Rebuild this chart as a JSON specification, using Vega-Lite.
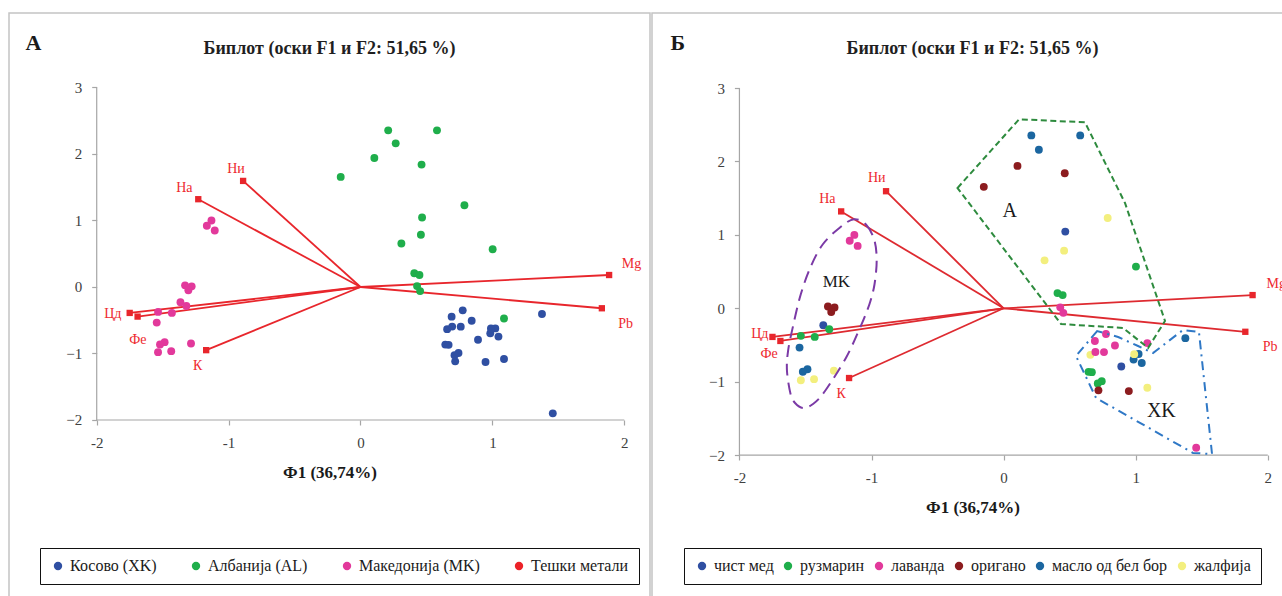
{
  "$schema": "https://vega.github.io/schema/vega-lite/v6.json",
  "background": "white",
  "padding": {"left": 8, "top": 12, "right": 0, "bottom": 0},
  "spacing": 0,
  "config": {
    "view": {"stroke": "#c4c4c4", "strokeWidth": 1.5},
    "font": "Liberation Serif",
    "text": {"font": "Liberation Serif"},
    "legend": {"labelFont": "Liberation Serif"},
    "axis": {"grid": false, "domain": false, "tickColor": "#a6a6a6", "tickSize": 5, "tickWidth": 1.2, "format": "d",
      "labelFont": "Liberation Serif", "labelFontSize": 15, "labelColor": "#404040", "labelFlush": false, "labelBound": false,
      "titleFont": "Liberation Serif", "titleFontSize": 17, "titleFontWeight": "bold", "titleColor": "#1a1a1a"}
  },
  "datasets": {
    "samples": [
      {"f1": -1.13, "f2": 1.0, "c": "Македонија (MK)", "h": "лаванда"},
      {"f1": -1.165, "f2": 0.92, "c": "Македонија (MK)", "h": "лаванда"},
      {"f1": -1.105, "f2": 0.85, "c": "Македонија (MK)", "h": "лаванда"},
      {"f1": -1.33, "f2": 0.025, "c": "Македонија (MK)", "h": "оригано"},
      {"f1": -1.28, "f2": 0.01, "c": "Македонија (MK)", "h": "оригано"},
      {"f1": -1.305, "f2": -0.05, "c": "Македонија (MK)", "h": "оригано"},
      {"f1": -1.365, "f2": -0.23, "c": "Македонија (MK)", "h": "чист мед"},
      {"f1": -1.32, "f2": -0.285, "c": "Македонија (MK)", "h": "рузмарин"},
      {"f1": -1.535, "f2": -0.375, "c": "Македонија (MK)", "h": "рузмарин"},
      {"f1": -1.43, "f2": -0.39, "c": "Македонија (MK)", "h": "рузмарин"},
      {"f1": -1.545, "f2": -0.535, "c": "Македонија (MK)", "h": "масло од бел бор"},
      {"f1": -1.485, "f2": -0.83, "c": "Македонија (MK)", "h": "масло од бел бор"},
      {"f1": -1.52, "f2": -0.865, "c": "Македонија (MK)", "h": "масло од бел бор"},
      {"f1": -1.535, "f2": -0.98, "c": "Македонија (MK)", "h": "жалфија"},
      {"f1": -1.435, "f2": -0.965, "c": "Македонија (MK)", "h": "жалфија"},
      {"f1": -1.285, "f2": -0.85, "c": "Македонија (MK)", "h": "жалфија"},
      {"f1": 0.21, "f2": 2.355, "c": "Албанија (AL)", "h": "масло од бел бор"},
      {"f1": 0.58, "f2": 2.355, "c": "Албанија (AL)", "h": "масло од бел бор"},
      {"f1": 0.267, "f2": 2.16, "c": "Албанија (AL)", "h": "масло од бел бор"},
      {"f1": 0.105, "f2": 1.94, "c": "Албанија (AL)", "h": "оригано"},
      {"f1": 0.463, "f2": 1.84, "c": "Албанија (AL)", "h": "оригано"},
      {"f1": -0.15, "f2": 1.655, "c": "Албанија (AL)", "h": "оригано"},
      {"f1": 0.788, "f2": 1.23, "c": "Албанија (AL)", "h": "жалфија"},
      {"f1": 0.467, "f2": 1.045, "c": "Албанија (AL)", "h": "чист мед"},
      {"f1": 0.458, "f2": 0.785, "c": "Албанија (AL)", "h": "жалфија"},
      {"f1": 0.31, "f2": 0.653, "c": "Албанија (AL)", "h": "жалфија"},
      {"f1": 1.002, "f2": 0.568, "c": "Албанија (AL)", "h": "рузмарин"},
      {"f1": 0.408, "f2": 0.207, "c": "Албанија (AL)", "h": "рузмарин"},
      {"f1": 0.447, "f2": 0.18, "c": "Албанија (AL)", "h": "рузмарин"},
      {"f1": 0.429, "f2": 0.013, "c": "Албанија (AL)", "h": "лаванда"},
      {"f1": 0.452, "f2": -0.062, "c": "Албанија (AL)", "h": "лаванда"},
      {"f1": 1.088, "f2": -0.474, "c": "Албанија (AL)", "h": "лаванда"},
      {"f1": 0.775, "f2": -0.351, "c": "Косово (XK)", "h": "лаванда"},
      {"f1": 0.691, "f2": -0.446, "c": "Косово (XK)", "h": "лаванда"},
      {"f1": 0.843, "f2": -0.507, "c": "Косово (XK)", "h": "лаванда"},
      {"f1": 1.376, "f2": -0.407, "c": "Косово (XK)", "h": "масло од бел бор"},
      {"f1": 0.657, "f2": -0.634, "c": "Косово (XK)", "h": "жалфија"},
      {"f1": 0.695, "f2": -0.596, "c": "Косово (XK)", "h": "лаванда"},
      {"f1": 0.76, "f2": -0.597, "c": "Косово (XK)", "h": "лаванда"},
      {"f1": 1.022, "f2": -0.623, "c": "Косово (XK)", "h": "масло од бел бор"},
      {"f1": 0.984, "f2": -0.697, "c": "Косово (XK)", "h": "масло од бел бор"},
      {"f1": 1.046, "f2": -0.746, "c": "Косово (XK)", "h": "масло од бел бор"},
      {"f1": 0.989, "f2": -0.625, "c": "Косово (XK)", "h": "жалфија"},
      {"f1": 0.891, "f2": -0.793, "c": "Косово (XK)", "h": "чист мед"},
      {"f1": 0.643, "f2": -0.866, "c": "Косово (XK)", "h": "рузмарин"},
      {"f1": 0.668, "f2": -0.87, "c": "Косово (XK)", "h": "рузмарин"},
      {"f1": 0.743, "f2": -0.993, "c": "Косово (XK)", "h": "рузмарин"},
      {"f1": 0.713, "f2": -1.025, "c": "Косово (XK)", "h": "рузмарин"},
      {"f1": 0.718, "f2": -1.118, "c": "Косово (XK)", "h": "оригано"},
      {"f1": 0.948, "f2": -1.128, "c": "Косово (XK)", "h": "оригано"},
      {"f1": 1.088, "f2": -1.083, "c": "Косово (XK)", "h": "жалфија"},
      {"f1": 1.458, "f2": -1.9, "c": "Косово (XK)", "h": "лаванда"}
    ],
    "vectors": [
      {"name": "Ни", "f1": -0.89, "f2": 1.595, "lxA": -0.944, "lyA": 1.77, "lxB": -0.961, "lyB": 1.779},
      {"name": "На", "f1": -1.23, "f2": 1.32, "lxA": -1.336, "lyA": 1.493, "lxB": -1.334, "lyB": 1.485},
      {"name": "Mg", "f1": 1.885, "f2": 0.18, "lxA": 2.055, "lyA": 0.341, "lxB": 2.064, "lyB": 0.327},
      {"name": "Pb", "f1": 1.83, "f2": -0.32, "lxA": 2.01, "lyA": -0.552, "lxB": 2.017, "lyB": -0.527},
      {"name": "Цд", "f1": -1.75, "f2": -0.39, "lxA": -1.878, "lyA": -0.4, "lxB": -1.846, "lyB": -0.354},
      {"name": "Фе", "f1": -1.69, "f2": -0.445, "lxA": -1.688, "lyA": -0.792, "lxB": -1.776, "lyB": -0.627},
      {"name": "К", "f1": -1.17, "f2": -0.95, "lxA": -1.234, "lyA": -1.193, "lxB": -1.229, "lyB": -1.163}
    ],
    "axislines": [
      {"x": -2, "x2": 2, "y": -2, "y2": -2},
      {"x": -2, "x2": -2, "y": -2, "y2": 3}
    ],
    "hulls": [
      {"g": "A", "o": 1, "f1": -0.349, "f2": 1.639},
      {"g": "A", "o": 2, "f1": 0.117, "f2": 2.575},
      {"g": "A", "o": 3, "f1": 0.616, "f2": 2.534},
      {"g": "A", "o": 4, "f1": 0.919, "f2": 1.435},
      {"g": "A", "o": 5, "f1": 1.222, "f2": -0.173},
      {"g": "A", "o": 6, "f1": 1.094, "f2": -0.54},
      {"g": "A", "o": 7, "f1": 0.905, "f2": -0.268},
      {"g": "A", "o": 8, "f1": 0.435, "f2": -0.214},
      {"g": "XK", "o": 1, "f1": 0.708, "f2": -0.31},
      {"g": "XK", "o": 2, "f1": 0.548, "f2": -0.65},
      {"g": "XK", "o": 3, "f1": 0.7, "f2": -1.222},
      {"g": "XK", "o": 4, "f1": 1.434, "f2": -1.971},
      {"g": "XK", "o": 5, "f1": 1.578, "f2": -1.985},
      {"g": "XK", "o": 6, "f1": 1.479, "f2": -0.323},
      {"g": "XK", "o": 7, "f1": 1.358, "f2": -0.296},
      {"g": "XK", "o": 8, "f1": 1.131, "f2": -0.609},
      {"g": "XK", "o": 9, "f1": 1.018, "f2": -0.514},
      {"g": "XK", "o": 10, "f1": 0.867, "f2": -0.391},
      {"g": "MK", "o": 1, "f1": -1.133, "f2": 1.213},
      {"g": "MK", "o": 2, "f1": -1.039, "f2": 1.135},
      {"g": "MK", "o": 3, "f1": -0.977, "f2": 0.917},
      {"g": "MK", "o": 4, "f1": -0.961, "f2": 0.644},
      {"g": "MK", "o": 5, "f1": -0.977, "f2": 0.331},
      {"g": "MK", "o": 6, "f1": -1.008, "f2": 0.1},
      {"g": "MK", "o": 7, "f1": -1.049, "f2": -0.105},
      {"g": "MK", "o": 8, "f1": -1.087, "f2": -0.264},
      {"g": "MK", "o": 9, "f1": -1.193, "f2": -0.673},
      {"g": "MK", "o": 10, "f1": -1.352, "f2": -1.127},
      {"g": "MK", "o": 11, "f1": -1.443, "f2": -1.304},
      {"g": "MK", "o": 12, "f1": -1.518, "f2": -1.358},
      {"g": "MK", "o": 13, "f1": -1.579, "f2": -1.29},
      {"g": "MK", "o": 14, "f1": -1.613, "f2": -1.168},
      {"g": "MK", "o": 15, "f1": -1.64, "f2": -0.854},
      {"g": "MK", "o": 16, "f1": -1.632, "f2": -0.582},
      {"g": "MK", "o": 17, "f1": -1.594, "f2": -0.241},
      {"g": "MK", "o": 18, "f1": -1.535, "f2": 0.195},
      {"g": "MK", "o": 19, "f1": -1.458, "f2": 0.576},
      {"g": "MK", "o": 20, "f1": -1.367, "f2": 0.876},
      {"g": "MK", "o": 21, "f1": -1.241, "f2": 1.098}
    ]
  },
  "resolve": {"scale": {"x": "independent", "y": "independent", "color": "independent"}, "legend": {"color": "independent"}},
  "hconcat": [
    {
      "width": 641,
      "height": 590,
      "title": {"text": "Биплот (оски F1 и F2: 51,65 %)", "font": "Liberation Serif", "fontSize": 18, "fontWeight": "bold", "color": "#1f1f1f", "anchor": "middle", "offset": -45},
      "layer": [
        {
          "data": {"name": "axislines"},
          "mark": {"type": "rule", "color": "#a6a6a6", "strokeWidth": 1.2},
          "encoding": {
            "x": {"field": "x", "type": "quantitative", "title": "Ф1 (36,74%)",
              "scale": {"domain": [-2.665, 2.195], "nice": false, "zero": false},
              "axis": {"values": [-2, -1, 0, 1, 2], "format": "d", "offset": -183, "labelPadding": 10, "titlePadding": 14, "labelFont": "Liberation Serif", "labelExpr": "replace(datum.label, '−', '-')"}},
            "y": {"field": "y", "type": "quantitative", "title": null,
              "scale": {"domain": [-4.752, 4.12], "nice": false, "zero": false},
              "axis": {"values": [-2, -1, 0, 1, 2, 3], "format": "d", "offset": -87.7, "labelPadding": 10, "labelFont": "Liberation Serif"}},
            "x2": {"field": "x2"},
            "y2": {"field": "y2"}
          }
        },
        {
          "data": {"name": "vectors"},
          "mark": {"type": "rule", "color": "#e8262c", "strokeWidth": 1.8},
          "encoding": {
            "x": {"field": "f1", "type": "quantitative", "title": "Ф1 (36,74%)"},
            "y": {"field": "f2", "type": "quantitative", "title": null},
            "x2": {"datum": 0},
            "y2": {"datum": 0}
          }
        },
        {
          "data": {"name": "samples"},
          "mark": {"type": "circle", "size": 62, "opacity": 1},
          "encoding": {
            "x": {"field": "f1", "type": "quantitative", "title": "Ф1 (36,74%)"},
            "y": {"field": "f2", "type": "quantitative", "title": null},
            "color": {"field": "c", "type": "nominal",
              "scale": {"domain": ["Косово (XK)", "Албанија (AL)", "Македонија (MK)", "Тешки метали"], "range": ["#2f4fa2", "#1fae4b", "#e2399b", "#ec2228"]},
              "legend": {"orient": "none", "legendX": 31, "legendY": 535, "direction": "horizontal", "title": null,
                "strokeColor": "#111111", "padding": 10, "columnPadding": 31, "labelOffset": 4,
                "labelFont": "Liberation Serif", "labelFontSize": 16, "labelColor": "#1a1a1a", "labelLimit": 300,
                "symbolType": "circle", "symbolSize": 70, "symbolStrokeWidth": 0}}
          }
        },
        {
          "data": {"name": "vectors"},
          "mark": {"type": "square", "size": 40, "color": "#e8262c", "opacity": 1},
          "encoding": {
            "x": {"field": "f1", "type": "quantitative", "title": "Ф1 (36,74%)"},
            "y": {"field": "f2", "type": "quantitative", "title": null}
          }
        },
        {
          "data": {"name": "vectors"},
          "mark": {"type": "text", "color": "#ee2a2f", "font": "Liberation Serif", "fontSize": 14, "align": "center", "baseline": "middle"},
          "encoding": {
            "x": {"field": "lxA", "type": "quantitative", "title": "Ф1 (36,74%)"},
            "y": {"field": "lyA", "type": "quantitative", "title": null},
            "text": {"field": "name"}
          }
        },
        {
          "data": {"values": [{"t": "А", "x": -2.479, "y": 3.662}]},
          "mark": {"type": "text", "color": "#1a1a1a", "font": "Liberation Serif", "fontSize": 22, "fontWeight": "bold", "align": "center", "baseline": "middle"},
          "encoding": {
            "x": {"field": "x", "type": "quantitative", "title": "Ф1 (36,74%)"},
            "y": {"field": "y", "type": "quantitative", "title": null},
            "text": {"field": "t"}
          }
        }
      ]
    },
    {
      "width": 641,
      "height": 590,
      "title": {"text": "Биплот (оски F1 и F2: 51,65 %)", "font": "Liberation Serif", "fontSize": 18, "fontWeight": "bold", "color": "#1f1f1f", "anchor": "middle", "offset": -45},
      "layer": [
        {
          "data": {"name": "axislines"},
          "mark": {"type": "rule", "color": "#a6a6a6", "strokeWidth": 1.2},
          "encoding": {
            "x": {"field": "x", "type": "quantitative", "title": "Ф1 (36,74%)",
              "scale": {"domain": [-2.662, 2.191], "nice": false, "zero": false},
              "axis": {"values": [-2, -1, 0, 1, 2], "format": "d", "offset": -148, "labelPadding": 10, "titlePadding": 14, "labelFont": "Liberation Serif", "labelExpr": "replace(datum.label, '−', '-')"}},
            "y": {"field": "y", "type": "quantitative", "title": null,
              "scale": {"domain": [-4.015, 4.023], "nice": false, "zero": false},
              "axis": {"values": [-2, -1, 0, 1, 2, 3], "format": "d", "offset": -87.4, "labelPadding": 10, "labelFont": "Liberation Serif"}},
            "x2": {"field": "x2"},
            "y2": {"field": "y2"}
          }
        },
        {
          "data": {"name": "vectors"},
          "mark": {"type": "rule", "color": "#de2a30", "strokeWidth": 1.8},
          "encoding": {
            "x": {"field": "f1", "type": "quantitative", "title": "Ф1 (36,74%)"},
            "y": {"field": "f2", "type": "quantitative", "title": null},
            "x2": {"datum": 0},
            "y2": {"datum": 0}
          }
        },
        {
          "data": {"name": "samples"},
          "mark": {"type": "circle", "size": 62, "opacity": 1},
          "encoding": {
            "x": {"field": "f1", "type": "quantitative", "title": "Ф1 (36,74%)"},
            "y": {"field": "f2", "type": "quantitative", "title": null},
            "color": {"field": "h", "type": "nominal",
              "scale": {"domain": ["чист мед", "рузмарин", "лаванда", "оригано", "масло од бел бор", "жалфија"], "range": ["#2f4fa2", "#1fae4b", "#e2399b", "#8c1c1f", "#1b66a0", "#f3ef7e"]},
              "legend": {"orient": "none", "legendX": 32, "legendY": 535, "direction": "horizontal", "title": null,
                "strokeColor": "#111111", "padding": 10, "columnPadding": 6, "labelOffset": 4,
                "labelFont": "Liberation Serif", "labelFontSize": 16, "labelColor": "#1a1a1a", "labelLimit": 300,
                "symbolType": "circle", "symbolSize": 70, "symbolStrokeWidth": 0}}
          }
        },
        {
          "data": {"name": "vectors"},
          "mark": {"type": "square", "size": 40, "color": "#e8262c", "opacity": 1},
          "encoding": {
            "x": {"field": "f1", "type": "quantitative", "title": "Ф1 (36,74%)"},
            "y": {"field": "f2", "type": "quantitative", "title": null}
          }
        },
        {
          "data": {"name": "vectors"},
          "mark": {"type": "text", "color": "#ee2a2f", "font": "Liberation Serif", "fontSize": 14, "align": "center", "baseline": "middle"},
          "encoding": {
            "x": {"field": "lxB", "type": "quantitative", "title": "Ф1 (36,74%)"},
            "y": {"field": "lyB", "type": "quantitative", "title": null},
            "text": {"field": "name"}
          }
        },
        {
          "data": {"name": "hulls"},
          "transform": [{"filter": "datum.g === 'A'"}],
          "mark": {"type": "line", "color": "#2e8b3e", "strokeWidth": 2, "strokeDash": [6, 3.5], "interpolate": "linear-closed"},
          "encoding": {
            "x": {"field": "f1", "type": "quantitative", "title": "Ф1 (36,74%)"},
            "y": {"field": "f2", "type": "quantitative", "title": null},
            "order": {"field": "o", "type": "quantitative"}
          }
        },
        {
          "data": {"name": "hulls"},
          "transform": [{"filter": "datum.g === 'XK'"}],
          "mark": {"type": "line", "color": "#2f78c6", "strokeWidth": 2, "strokeDash": [9, 5, 2, 5], "interpolate": "linear-closed"},
          "encoding": {
            "x": {"field": "f1", "type": "quantitative", "title": "Ф1 (36,74%)"},
            "y": {"field": "f2", "type": "quantitative", "title": null},
            "order": {"field": "o", "type": "quantitative"}
          }
        },
        {
          "data": {"name": "hulls"},
          "transform": [{"filter": "datum.g === 'MK'"}],
          "mark": {"type": "line", "color": "#7b3aa6", "strokeWidth": 2, "strokeDash": [12, 7], "interpolate": "cardinal-closed"},
          "encoding": {
            "x": {"field": "f1", "type": "quantitative", "title": "Ф1 (36,74%)"},
            "y": {"field": "f2", "type": "quantitative", "title": null},
            "order": {"field": "o", "type": "quantitative"}
          }
        },
        {
          "data": {"values": [{"t": "Б", "x": -2.466, "y": 3.619}]},
          "mark": {"type": "text", "color": "#1a1a1a", "font": "Liberation Serif", "fontSize": 22, "fontWeight": "bold", "align": "center", "baseline": "middle"},
          "encoding": {
            "x": {"field": "x", "type": "quantitative", "title": "Ф1 (36,74%)"},
            "y": {"field": "y", "type": "quantitative", "title": null},
            "text": {"field": "t"}
          }
        },
        {
          "data": {"values": [
            {"t": "A", "x": 0.047, "y": 1.326},
            {"t": "XK", "x": 1.194, "y": -1.4}
          ]},
          "mark": {"type": "text", "color": "#1a1a1a", "font": "Liberation Serif", "fontSize": 20, "align": "center", "baseline": "middle"},
          "encoding": {
            "x": {"field": "x", "type": "quantitative", "title": "Ф1 (36,74%)"},
            "y": {"field": "y", "type": "quantitative", "title": null},
            "text": {"field": "t"}
          }
        },
        {
          "data": {"values": [
            {"t": "MK", "x": -1.266, "y": 0.358}
          ]},
          "mark": {"type": "text", "color": "#1a1a1a", "font": "Liberation Serif", "fontSize": 17, "align": "center", "baseline": "middle"},
          "encoding": {
            "x": {"field": "x", "type": "quantitative", "title": "Ф1 (36,74%)"},
            "y": {"field": "y", "type": "quantitative", "title": null},
            "text": {"field": "t"}
          }
        }
      ]
    }
  ]
}
